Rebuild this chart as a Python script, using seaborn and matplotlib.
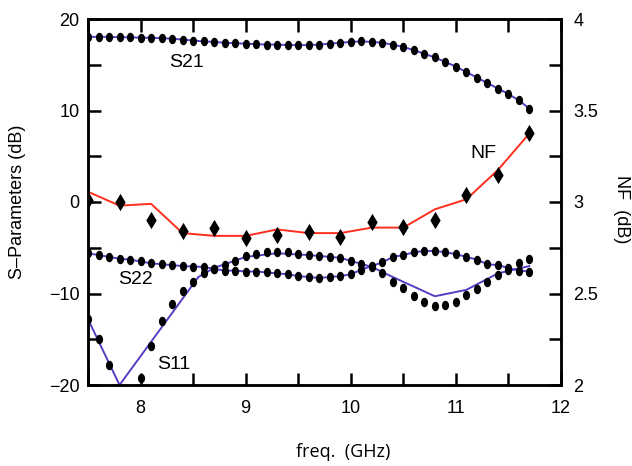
import numpy as np
import pandas as pd
import matplotlib
matplotlib.use("Agg")
import matplotlib.pyplot as plt
from matplotlib.path import Path
from matplotlib.ticker import MultipleLocator
import seaborn as sns

# ---- data -------------------------------------------------------------
freq = [7.5, 7.6, 7.7, 7.8, 7.9, 8.0, 8.1, 8.2, 8.3, 8.4, 8.5, 8.6, 8.7, 8.8,
        8.9, 9.0, 9.1, 9.2, 9.3, 9.4, 9.5, 9.6, 9.7, 9.8, 9.9, 10.0, 10.1,
        10.2, 10.3, 10.4, 10.5, 10.6, 10.7, 10.8, 10.9, 11.0, 11.1, 11.2,
        11.3, 11.4, 11.5, 11.6, 11.7]

s21 = [18.05, 18.05, 18.05, 18.0, 18.0, 17.95, 17.95, 17.9, 17.85, 17.75,
       17.65, 17.55, 17.5, 17.4, 17.35, 17.3, 17.25, 17.2, 17.2, 17.15,
       17.15, 17.15, 17.2, 17.3, 17.4, 17.5, 17.55, 17.5, 17.4, 17.2,
       16.95, 16.6, 16.2, 15.8, 15.3, 14.8, 14.2, 13.6, 13.0, 12.4, 11.8,
       11.1, 10.2]

s11 = [-12.8, -15.0, -17.8, -23.0, -21.5, -19.2, -15.7, -13.0, -11.1, -9.7,
       -8.7, -7.8, -7.3, -6.9, -6.4, -5.9, -5.7, -5.5, -5.5, -5.5, -5.7,
       -5.8, -5.9, -6.0, -6.1, -6.4, -6.8, -7.1, -7.8, -8.7, -9.4, -10.3,
       -10.9, -11.4, -11.3, -10.9, -10.2, -9.5, -8.7, -8.0, -7.4, -6.7, -6.2]

s22 = [-5.6, -5.8, -6.0, -6.2, -6.3, -6.5, -6.7, -6.8, -6.9, -7.0, -7.05,
       -7.1, -7.3, -7.5, -7.5, -7.6, -7.6, -7.7, -7.8, -7.9, -8.1, -8.2,
       -8.3, -8.2, -8.1, -7.9, -7.4, -7.0, -6.6, -6.0, -5.8, -5.5, -5.35,
       -5.35, -5.5, -5.7, -6.0, -6.3, -6.8, -6.9, -7.2, -7.5, -7.6]

# simulated S11 (coarser sampling)
s11_sim_freq = [7.5, 7.8, 8.55, 8.7, 9.0, 9.3, 9.6, 9.9, 10.2, 10.4, 10.8,
                11.1, 11.4, 11.7]
s11_sim = [-12.8, -20.0, -8.2, -7.2, -6.0, -5.6, -5.8, -6.1, -7.1, -8.2,
           -10.3, -9.6, -7.8, -7.0]

# noise figure, measured and simulated
nf_freq = [7.5, 7.8, 8.1, 8.4, 8.7, 9.0, 9.3, 9.6, 9.9, 10.2, 10.5, 10.8,
           11.1, 11.4, 11.7]
nf_meas = [3.01, 3.0, 2.90, 2.84, 2.86, 2.805, 2.82, 2.835, 2.81, 2.89,
           2.865, 2.90, 3.04, 3.15, 3.375]
nf_sim = [3.056, 2.98, 2.99, 2.83, 2.815, 2.815, 2.85, 2.83, 2.83, 2.86,
          2.86, 2.96, 3.015, 3.175, 3.375]

x_ticks = [8, 9, 10, 11, 12]
left_ticks = [-20, -10, 0, 10, 20]
right_ticks = [2, 2.5, 3, 3.5, 4]

# ---- style ------------------------------------------------------------
sns.set_theme(style="white")
plt.rcParams["font.family"] = ["Liberation Sans", "DejaVu Sans"]
plt.rcParams["axes.unicode_minus"] = True
plt.rcParams["text.color"] = "black"
plt.rcParams["axes.labelcolor"] = "black"
plt.rcParams["xtick.color"] = "black"
plt.rcParams["ytick.color"] = "black"

PURPLE = "#5a3cc4"
RED = "#ff2e1e"

# vertically elongated dot marker
t = np.linspace(0, 2 * np.pi, 40)
ellipse = Path(np.column_stack([0.38 * np.cos(t), 0.5 * np.sin(t)]), closed=True)

fig = plt.figure(figsize=(6.32, 4.66), dpi=100)
ax = fig.add_axes([88 / 632, 1 - 385 / 466, (561 - 88) / 632, (385 - 19) / 466])
ax2 = ax.twinx()

sp = pd.DataFrame({"freq": freq, "S21": s21, "S11": s11, "S22": s22})
sim11 = pd.DataFrame({"freq": s11_sim_freq, "S11": s11_sim})
nf = pd.DataFrame({"freq": nf_freq, "meas": nf_meas, "sim": nf_sim})

# S-parameter curves
for col in ["S21", "S22"]:
    sns.lineplot(data=sp, x="freq", y=col, ax=ax, color=PURPLE, lw=1.4,
                 sort=False, zorder=2)
sns.lineplot(data=sim11, x="freq", y="S11", ax=ax, color=PURPLE, lw=1.4,
             sort=False, zorder=2)
for col in ["S21", "S11", "S22"]:
    sns.scatterplot(data=sp, x="freq", y=col, ax=ax, marker=ellipse, s=6.8 ** 2,
                    color="black", linewidth=0, zorder=3)

# noise figure
sns.lineplot(data=nf, x="freq", y="sim", ax=ax2, color=RED, lw=1.4,
             sort=False, zorder=2)
sns.scatterplot(data=nf, x="freq", y="meas", ax=ax2, marker="d", s=8.8 ** 2,
                color="black", linewidth=0, zorder=3)

ax.set_xlim(7.5, 12)
ax.set_ylim(-20, 20)
ax2.set_ylim(2, 4)

ax.set_xticks(x_ticks)
ax.set_yticks(left_ticks)
ax2.set_yticks(right_ticks)
ax.xaxis.set_minor_locator(MultipleLocator(0.5))
ax.yaxis.set_minor_locator(MultipleLocator(5))
ax2.yaxis.set_minor_locator(MultipleLocator(0.25))
ax.set_yticklabels([f"{v:d}".replace("-", "\u2212") for v in left_ticks])
ax2.set_yticklabels(["2", "2.5", "3", "3.5", "4"])

ax.tick_params(axis="both", which="both", direction="in", length=9, width=1.8,
               colors="black", labelsize=13, top=True, bottom=True, left=True,
               right=False)
ax.tick_params(axis="x", which="both", pad=11)
ax.tick_params(axis="y", which="both", pad=6)
ax2.tick_params(axis="y", which="both", direction="in", length=9, width=1.8,
                colors="black", labelsize=13, pad=9, right=True)

for a in (ax, ax2):
    for s in a.spines.values():
        s.set_linewidth(1.8)
        s.set_color("black")
        s.set_visible(True)

ax.set_xlabel("freq.  (GHz)", fontsize=13, family=["Open Sans", "DejaVu Sans"])
ax.xaxis.set_label_coords(0.54, -0.158)
ax.set_ylabel("S\u2013Parameters (dB)", fontsize=13)
ax.yaxis.set_label_coords(-0.131, 0.5)
ax2.set_ylabel("NF  (dB)", fontsize=13, rotation=270, labelpad=0)
ax2.yaxis.set_label_coords(1.145, 0.48)

# curve labels
ax.text(8.44, 15.2, "S21", fontsize=14, ha="center", va="center")
ax.text(7.95, -8.5, "S22", fontsize=14, ha="center", va="center")
ax.text(8.32, -17.8, "S11", fontsize=14, ha="center", va="center")
ax.text(11.26, 5.35, "NF", fontsize=14, ha="center", va="center")

fig.savefig("out.png", dpi=100)
